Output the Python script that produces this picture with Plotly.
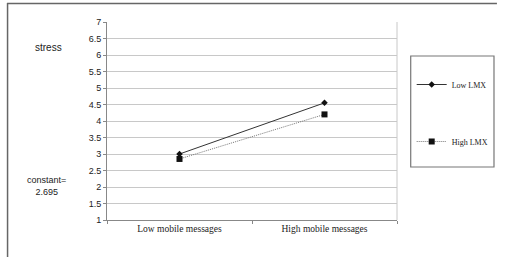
import plotly.graph_objects as go

categories = ["Low mobile messages", "High mobile messages"]
low_lmx = [3.0, 4.55]
high_lmx = [2.85, 4.2]
series_names = ["Low LMX", "High LMX"]
y_ticks = [1, 1.5, 2, 2.5, 3, 3.5, 4, 4.5, 5, 5.5, 6, 6.5, 7]
y_ticktext = ["1", "1.5", "2", "2.5", "3", "3.5", "4", "4.5", "5", "5.5", "6", "6.5", "7"]

W, H = 505, 257
L, R, T, B = 107, 102, 22, 37
pw, ph = W - L - R, H - T - B

def px(x):
    return (x - L) / pw

def py(y):
    return (H - B - y) / ph

fig = go.Figure()
fig.add_trace(go.Scatter(
    x=categories, y=low_lmx, name=series_names[0], mode="lines+markers",
    line=dict(color="#333333", width=1),
    marker=dict(symbol="diamond", size=5, color="#111111"),
    legendgroup="a"))
fig.add_trace(go.Scatter(
    x=categories, y=high_lmx, name=series_names[1], mode="lines+markers",
    line=dict(color="#777777", width=1, dash="1px,1px"),
    marker=dict(symbol="square", size=6, color="#111111"),
    legendgroup="b"))

border = dict(color="#666666", width=1.5)

fig.update_layout(
    width=W, height=H,
    margin=dict(l=L, r=R, t=T, b=B),
    paper_bgcolor="white", plot_bgcolor="white",
    font=dict(family="Liberation Sans", size=9, color="#222222"),
    showlegend=True,
    legend=dict(
        x=px(418), y=py(70), xanchor="left", yanchor="top",
        bgcolor="rgba(0,0,0,0)", borderwidth=0,
        font=dict(family="Liberation Serif", size=8, color="#222222"),
        tracegroupgap=38, traceorder="grouped",
        itemwidth=30,
    ),
    xaxis=dict(
        type="category", range=[-0.5, 1.5],
        showgrid=False, showline=True, linecolor="#888888", linewidth=1,
        ticks="outside", tickson="boundaries", ticklen=3, tickcolor="#888888",
        tickfont=dict(family="Liberation Serif", size=9.5, color="#222222"),
        mirror=False, zeroline=False,
    ),
    yaxis=dict(
        range=[1, 7], tickvals=y_ticks, ticktext=y_ticktext,
        showgrid=True, gridcolor="#c8c8c8", gridwidth=1,
        showline=True, linecolor="#888888", linewidth=1,
        ticks="outside", ticklen=3, tickcolor="#888888",
        tickfont=dict(family="Liberation Sans", size=9, color="#222222"),
        zeroline=False,
    ),
    shapes=[
        dict(type="line", xref="paper", yref="paper",
             x0=px(5), x1=px(505), y0=py(3.5), y1=py(3.5), line=border),
        dict(type="line", xref="paper", yref="paper",
             x0=px(5.5), x1=px(5.5), y0=py(3), y1=py(257), line=border),
        dict(type="line", xref="paper", yref="paper",
             x0=1, x1=1, y0=0, y1=1, line=dict(color="#c8c8c8", width=1)),
        dict(type="rect", xref="paper", yref="paper",
             x0=px(417), x1=px(502), y0=py(167), y1=py(56),
             line=dict(color="#777777", width=1.2)),
    ],
    annotations=[
        dict(text="stress", xref="paper", yref="paper", x=px(47), y=py(47),
             showarrow=False, xanchor="center", yanchor="middle",
             font=dict(family="Liberation Sans", size=10, color="#222222")),
        dict(text="constant=<br>2.695", xref="paper", yref="paper", x=px(45), y=py(186),
             showarrow=False, xanchor="center", yanchor="middle",
             font=dict(family="Liberation Sans", size=9, color="#222222")),
    ],
)

fig.write_html("out.html", config={"displayModeBar": False},
               post_script="document.body.style.margin='0';document.body.style.padding='0';window.scrollTo(0,0);")
